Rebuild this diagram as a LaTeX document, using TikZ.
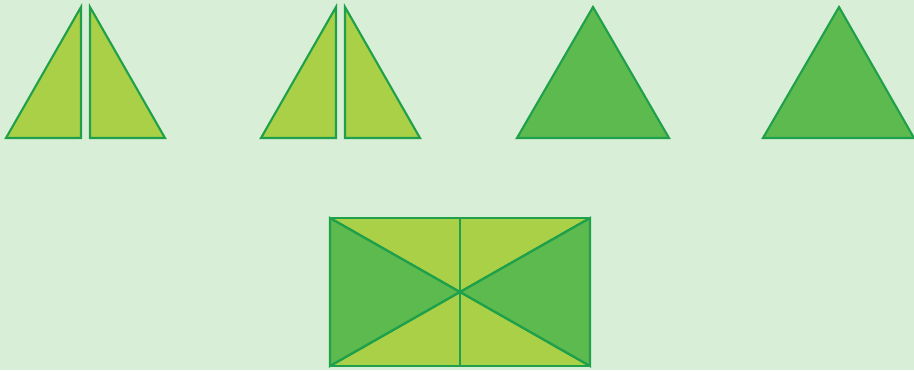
\documentclass[tikz,border=0pt]{standalone}
\usepackage{tikz}

\definecolor{paper}{HTML}{D9EED6}
\definecolor{lightpiece}{HTML}{A9D046}
\definecolor{darkpiece}{HTML}{5DBA4F}
\definecolor{edge}{HTML}{1FA04A}

\begin{document}
\begin{tikzpicture}[
  x=0.02cm, y=-0.02cm,
  half/.style={fill=lightpiece, draw=edge, line width=1.2pt, line join=miter},
  whole/.style={fill=darkpiece, draw=edge, line width=1.2pt, line join=miter},
  cut/.style={draw=edge, line width=1.2pt}
]
\fill[paper] (0,0) rectangle (914,370);
\useasboundingbox (0,0) rectangle (914,370);

% two triangles cut into halves
\foreach \dx in {0,255} {
  \draw[half] (6+\dx,138) -- (81+\dx,138) -- (81+\dx,7) -- cycle;
  \draw[half] (90+\dx,7) -- (90+\dx,138) -- (165+\dx,138) -- cycle;
}

% two whole triangles
\draw[whole] (517,138) -- (669,138) -- (593,7) -- cycle;
\draw[whole] (763,138) -- (914,138) -- (839,7) -- cycle;

% rectangle made of the pieces
\coordinate (mid) at (460,292);
\fill[lightpiece] (330,218) rectangle (590,366);
\draw[whole] (330,218) -- (mid) -- (330,366) -- cycle;
\draw[whole] (590,218) -- (mid) -- (590,366) -- cycle;
\draw[cut] (460,218) -- (460,366);
\draw[cut] (330,218) -- (590,366);
\draw[cut] (590,218) -- (330,366);
\draw[cut] (330,218) rectangle (590,366);
\end{tikzpicture}
\end{document}
